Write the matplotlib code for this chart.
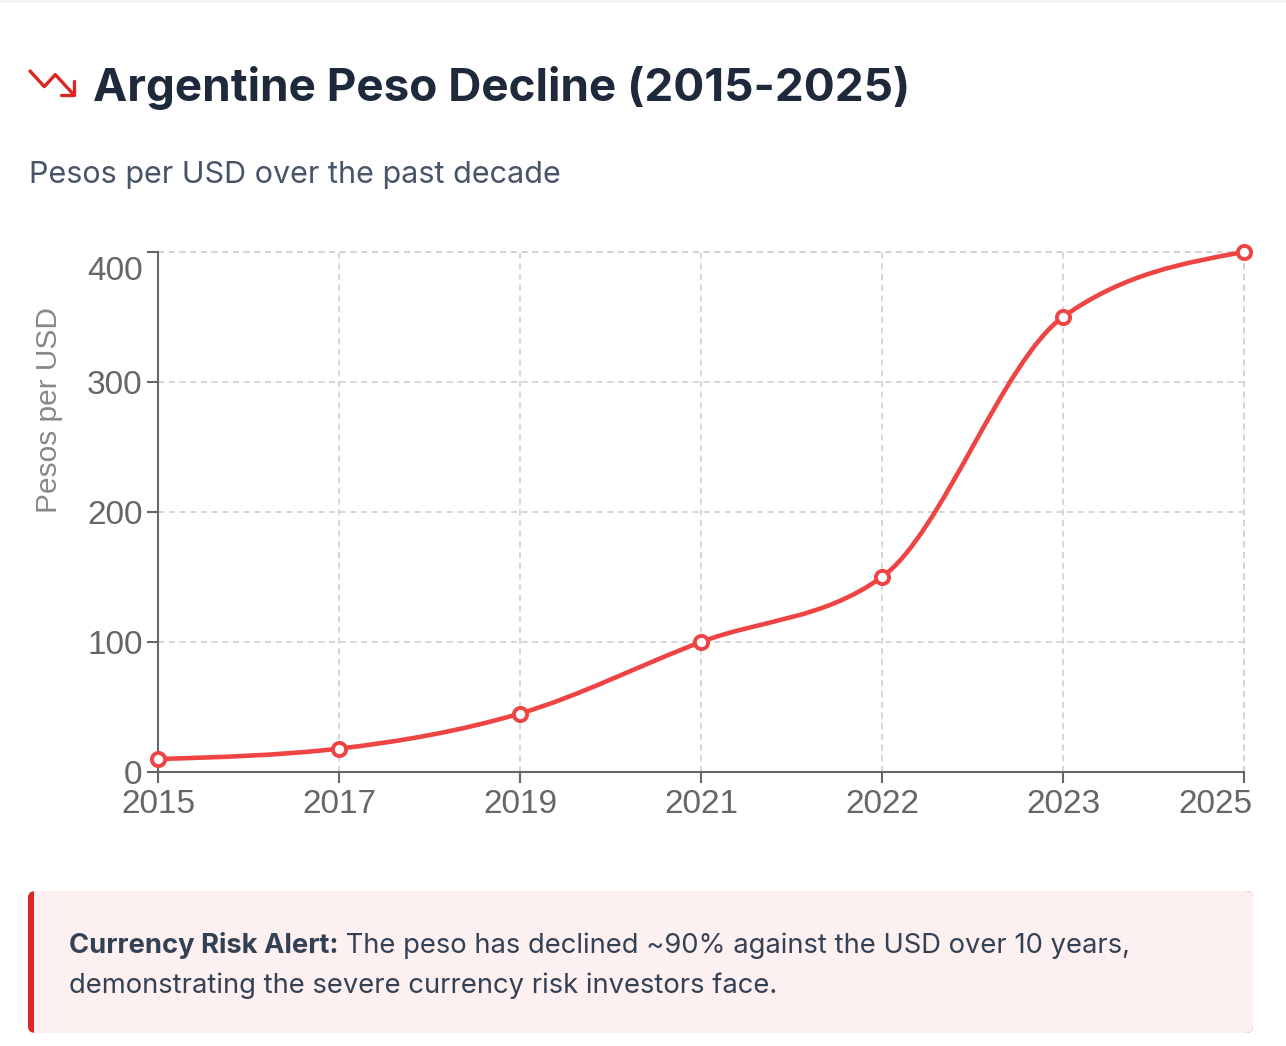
import numpy as np
import matplotlib
matplotlib.use("Agg")
from matplotlib import pyplot as plt
from matplotlib.path import Path
from matplotlib.patches import PathPatch, FancyBboxPatch, Rectangle
from matplotlib.transforms import offset_copy

# Data
years = ['2015', '2017', '2019', '2021', '2022', '2023', '2025']
pesos_per_usd = [10, 18, 45, 100, 150, 350, 400]
y_ticks = [0, 100, 200, 300, 400]

title = "Argentine Peso Decline (2015-2025)"
subtitle = "Pesos per USD over the past decade"
alert_bold = "Currency Risk Alert:"
alert_line1 = " The peso has declined ~90% against the USD over 10 years,"
alert_line2 = "demonstrating the severe currency risk investors face."

RED = '#ef4444'
W, H = 1286, 1046
fig = plt.figure(figsize=(W / 100, H / 100), dpi=100)
fig.patch.set_facecolor('white')


def fx(px):
    return px / W


def fy(py):
    return 1 - py / H


# thin card edge at the very top
fig.patches.append(Rectangle((0, fy(3)), 1, 3 / H, transform=fig.transFigure,
                             facecolor='#f1f5f9', edgecolor='none'))

# Axes placement (pixels): left 158, right 1244, top 252, bottom 772
ax_l, ax_r, ax_t, ax_b = 158, 1244, 252, 772
ax = fig.add_axes([fx(ax_l), fy(ax_b), (ax_r - ax_l) / W, (ax_b - ax_t) / H])

x = np.arange(len(years), dtype=float)
y = np.array(pesos_per_usd, dtype=float)

# monotone-x cubic (Steffen slopes, like d3.curveMonotoneX)
n = len(x)
h = np.diff(x)
s = np.diff(y) / h
m = np.zeros(n)
for i in range(1, n - 1):
    p = (s[i - 1] * h[i] + s[i] * h[i - 1]) / (h[i - 1] + h[i])
    m[i] = (np.sign(s[i - 1]) + np.sign(s[i])) * min(abs(s[i - 1]), abs(s[i]), 0.5 * abs(p))
m[0] = (3 * s[0] - m[1]) / 2
m[-1] = (3 * s[-1] - m[-2]) / 2

verts = [(x[0], y[0])]
codes = [Path.MOVETO]
for i in range(n - 1):
    dx = h[i] / 3
    verts += [(x[i] + dx, y[i] + m[i] * dx),
              (x[i + 1] - dx, y[i + 1] - m[i + 1] * dx),
              (x[i + 1], y[i + 1])]
    codes += [Path.CURVE4] * 3
ax.add_patch(PathPatch(Path(verts, codes), facecolor='none', edgecolor=RED,
                       lw=3.3, capstyle='round', joinstyle='round', zorder=3, clip_on=False))
ax.plot(x, y, 'o', ms=9.5, mfc='white', mec=RED, mew=2.8, zorder=4, clip_on=False)

ax.set_xlim(0, n - 1)
ax.set_ylim(0, 400)
ax.set_xticks(x)
ax.set_xticklabels(years)
ax.set_yticks(y_ticks)
ax.set_yticklabels([str(v) for v in y_ticks])

for side in ['top', 'right']:
    ax.spines[side].set_visible(False)
for side in ['left', 'bottom']:
    ax.spines[side].set_color('#666666')
    ax.spines[side].set_linewidth(1.5)

grid_kw = dict(color='#cccccc', linestyle=(0, (4, 3)), linewidth=1.1)
ax.grid(True, **grid_kw)
ax.set_axisbelow(True)
ax.tick_params(axis='both', colors='#666666', labelcolor='#666666', labelsize=24,
               length=8, width=1.5)
ax.tick_params(axis='x', pad=4)
ax.tick_params(axis='y', pad=3)
for lab in ax.get_xticklabels() + ax.get_yticklabels():
    lab.set_fontfamily(['Liberation Sans', 'DejaVu Sans'])

# edge labels are pulled inside the canvas in the reference
top_lab = ax.get_yticklabels()[-1]
top_lab.set_transform(offset_copy(top_lab.get_transform(), fig=fig, x=0, y=-16, units='dots'))
last_lab = ax.get_xticklabels()[-1]
last_lab.set_transform(offset_copy(last_lab.get_transform(), fig=fig, x=-29, y=0, units='dots'))

# the top y gridline and right x gridline at the edges
ax.axhline(400, zorder=0, clip_on=False, **grid_kw)
ax.axvline(n - 1, zorder=0, clip_on=False, **grid_kw)

ax.set_ylabel("Pesos per USD", fontsize=21.5, color='#888888',
              family=['Liberation Sans', 'DejaVu Sans'])
ax.yaxis.set_label_coords((63 - ax_l) / (ax_r - ax_l), (ax_b - 410) / (ax_b - ax_t))

# title with trending-down icon
icon = np.array([[2, 7], [8.5, 13.5], [13.5, 8.5], [22, 17]])
head = np.array([[16, 17], [22, 17], [22, 11]])
for pts in (icon, head):
    xs = [fx(30 + (u - 2) * 2.2) for u in pts[:, 0]]
    ys = [fy(71 + (v - 7) * 2.4) for v in pts[:, 1]]
    fig.add_artist(plt.Line2D(xs, ys, transform=fig.transFigure, color='#dc2626', lw=2.4,
                              solid_capstyle='round', solid_joinstyle='round'))

fig.text(fx(93), fy(101), title, fontsize=33, fontweight='bold', color='#1e293b',
         family=['Inter', 'DejaVu Sans'], va='baseline', ha='left')
fig.text(fx(29), fy(183), subtitle, fontsize=22, color='#475569',
         family=['Inter', 'DejaVu Sans'], va='baseline', ha='left')

# alert box
bx0, bx1, by0, by1 = 28, 1253, 891, 1033
fig.patches.append(FancyBboxPatch((fx(bx0), fy(by1)), fx(bx1 - bx0), (by1 - by0) / H,
                                  boxstyle='round,pad=0,rounding_size=0.006',
                                  transform=fig.transFigure, facecolor='#dc2626', edgecolor='none'))
fig.patches.append(FancyBboxPatch((fx(bx0 + 6), fy(by1)), fx(bx1 - bx0 - 6), (by1 - by0) / H,
                                  boxstyle='round,pad=0,rounding_size=0.006',
                                  transform=fig.transFigure, facecolor='#fdf0f0', edgecolor='none'))
fig.patches.append(Rectangle((fx(bx0 + 6), fy(by1)), fx(20), (by1 - by0) / H,
                             transform=fig.transFigure, facecolor='#fdf0f0', edgecolor='none'))

txt_kw = dict(fontsize=19.7, color='#334155', family=['Inter', 'DejaVu Sans'],
              va='baseline', ha='left')
bold = fig.text(fx(69), fy(953), alert_bold, fontweight='bold', **txt_kw)
fig.canvas.draw()
bb = bold.get_window_extent()
fig.text(bb.x1 / W, fy(953), alert_line1, **txt_kw)
fig.text(fx(69), fy(993), alert_line2, **txt_kw)

fig.savefig('out.png', dpi=100, facecolor='white')
